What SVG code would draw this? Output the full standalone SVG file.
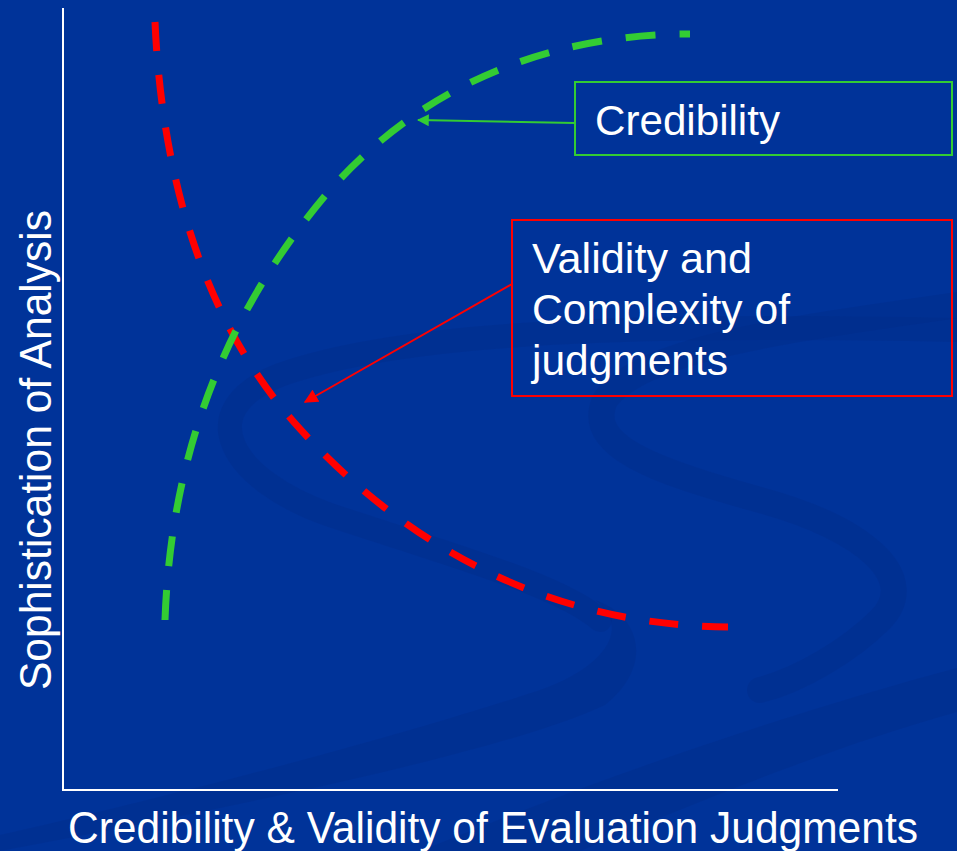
<svg xmlns="http://www.w3.org/2000/svg" width="957" height="851" viewBox="0 0 957 851">
<defs>
<style>
.bg{fill:#003399}
.sw{fill:none;stroke:#002a85;stroke-opacity:0.3;stroke-linecap:round}
.swf{fill:#002a85;fill-opacity:0.32}
.axis{stroke:#ffffff;stroke-width:2;fill:none}
.lbl{font-family:"Liberation Sans",Arial,sans-serif;font-size:43px;fill:#ffffff}
.big{font-size:44px}
.red{fill:none;stroke:#ff0000;stroke-width:7;stroke-dasharray:29 24}
.grn{fill:none;stroke:#33cc33;stroke-width:7;stroke-dasharray:30 24}
.boxg{fill:none;stroke:#33cc33;stroke-width:2}
.boxr{fill:none;stroke:#ff0000;stroke-width:2}
</style>
<marker id="ag" viewBox="0 0 10 10" refX="9" refY="5" markerWidth="12" markerHeight="12" markerUnits="userSpaceOnUse" orient="auto"><path d="M0,0 L10,5 L0,10 Z" fill="#33cc33"/></marker>
<marker id="ar" viewBox="0 0 10 10" refX="9" refY="5" markerWidth="14" markerHeight="14" markerUnits="userSpaceOnUse" orient="auto"><path d="M0,0 L10,5 L0,10 Z" fill="#ff0000"/></marker>
</defs>
<rect class="bg" x="0" y="0" width="957" height="851"/>
<g id="background-swirls">
<path class="swf" d="M420,851 C620,770 800,710 957,668 L957,712 C820,750 680,810 580,851 Z"/>
<path class="swf" d="M0,835 C200,790 420,730 540,690 C610,665 630,625 595,600 C640,615 655,665 605,705 C520,745 300,795 0,851 Z"/>
<path class="sw" stroke-width="24" d="M957,330 C700,325 420,325 280,375 C190,410 230,480 330,515 C450,555 560,585 600,620"/>
<path class="sw" stroke-width="26" d="M957,305 C780,330 640,350 605,400 C585,445 650,470 760,500 C870,530 920,580 880,620 C850,650 800,680 760,690"/>
</g>
<g id="axes">
<line class="axis" x1="63" y1="8" x2="63" y2="791"/>
<line class="axis" x1="62" y1="790" x2="838" y2="790"/>
</g>
<g id="y-label"><text class="lbl big" transform="translate(51,450) rotate(-90)" text-anchor="middle" textLength="480" lengthAdjust="spacingAndGlyphs">Sophistication of Analysis</text></g>
<g id="x-label"><text class="lbl big" x="68" y="843" textLength="850" lengthAdjust="spacingAndGlyphs">Credibility &amp; Validity of Evaluation Judgments</text></g>
<g id="curves">
<path id="red-curve" class="red" d="M155,22 C162,180 205,320 292,420 C380,520 520,625 728,627"/>
<path id="green-curve" class="grn" d="M165,620 C170,480 210,330 330,190 C450,55 600,34 690,34"/>
</g>
<g id="node-credibility">
<rect class="boxg" x="575" y="82" width="377" height="73"/>
<text class="lbl" x="595" y="135" textLength="185" lengthAdjust="spacingAndGlyphs">Credibility</text>
</g>
<g id="node-validity">
<rect class="boxr" x="512" y="220" width="440" height="176"/>
<text class="lbl" x="532" y="273" textLength="220" lengthAdjust="spacingAndGlyphs">Validity and</text>
<text class="lbl" x="532" y="324" textLength="258" lengthAdjust="spacingAndGlyphs">Complexity of</text>
<text class="lbl" x="532" y="375" textLength="196" lengthAdjust="spacingAndGlyphs">judgments</text>
</g>
<g id="connectors">
<line x1="575" y1="123" x2="418" y2="120" stroke="#33cc33" stroke-width="2" marker-end="url(#ag)"/>
<line x1="512" y1="284" x2="305" y2="402" stroke="#ff0000" stroke-width="2" marker-end="url(#ar)"/>
</g>
</svg>
